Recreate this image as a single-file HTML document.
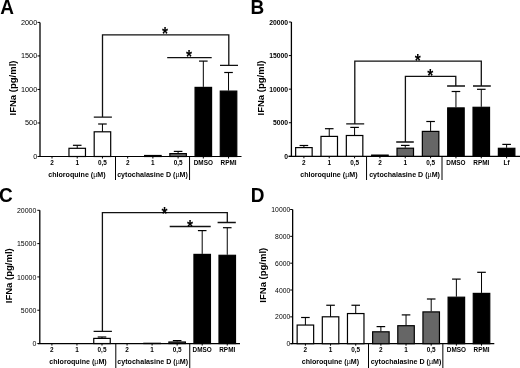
<!DOCTYPE html>
<html><head><meta charset="utf-8"><style>
html,body{margin:0;padding:0;background:#fff;}
body{width:520px;height:368px;overflow:hidden;}
svg{display:block;font-family:"Liberation Sans", Arial, sans-serif;}
</style></head><body>
<svg width="520" height="368" viewBox="0 0 520 368">
<rect width="520" height="368" fill="#fff"/>
<text x="0" y="0" font-size="19" font-weight="bold" text-anchor="start" fill="#000" transform="translate(0.3,13.9) scale(1,1.07)">A</text>
<path d="M40,22.4 V156.5" stroke="#000" stroke-width="1.3" fill="none"/>
<path d="M37.5,156.50 H40" stroke="#000" stroke-width="1.0" fill="none"/>
<text x="0" y="2.61" font-size="7.3" font-weight="normal" text-anchor="end" fill="#000" transform="translate(37.2,156.05) scale(1,1.0)">0</text>
<path d="M37.5,122.97 H40" stroke="#000" stroke-width="1.0" fill="none"/>
<text x="0" y="2.61" font-size="7.3" font-weight="normal" text-anchor="end" fill="#000" transform="translate(37.2,122.52) scale(1,1.0)">500</text>
<path d="M37.5,89.45 H40" stroke="#000" stroke-width="1.0" fill="none"/>
<text x="0" y="2.61" font-size="7.3" font-weight="normal" text-anchor="end" fill="#000" transform="translate(37.2,89.0) scale(1,1.0)">1000</text>
<path d="M37.5,55.93 H40" stroke="#000" stroke-width="1.0" fill="none"/>
<text x="0" y="2.61" font-size="7.3" font-weight="normal" text-anchor="end" fill="#000" transform="translate(37.2,55.48) scale(1,1.0)">1500</text>
<path d="M37.5,22.40 H40" stroke="#000" stroke-width="1.0" fill="none"/>
<text x="0" y="2.61" font-size="7.3" font-weight="normal" text-anchor="end" fill="#000" transform="translate(37.2,21.95) scale(1,1.0)">2000</text>
<path d="M38,156.5 H241.5" stroke="#000" stroke-width="1.2" fill="none"/>
<path d="M52.00,156.5 V158.5" stroke="#000" stroke-width="1.0" fill="none"/>
<path d="M77.22,156.5 V158.5" stroke="#000" stroke-width="1.0" fill="none"/>
<path d="M77.22,145.3 V148.5" stroke="#000" stroke-width="1.0" fill="none"/>
<path d="M72.92,145.3 H81.52" stroke="#000" stroke-width="1.2" fill="none"/>
<rect x="68.97" y="148.30" width="16.50" height="8.20" fill="#fff" stroke="#000" stroke-width="1.2"/>
<path d="M102.44,156.5 V158.5" stroke="#000" stroke-width="1.0" fill="none"/>
<path d="M102.44,124 V132" stroke="#000" stroke-width="1.0" fill="none"/>
<path d="M98.14,124 H106.74" stroke="#000" stroke-width="1.2" fill="none"/>
<rect x="94.19" y="131.80" width="16.50" height="24.70" fill="#fff" stroke="#000" stroke-width="1.2"/>
<path d="M127.66,156.5 V158.5" stroke="#000" stroke-width="1.0" fill="none"/>
<path d="M152.88,156.5 V158.5" stroke="#000" stroke-width="1.0" fill="none"/>
<rect x="144.63" y="155.50" width="16.50" height="1.00" fill="#666" stroke="#000" stroke-width="1.2"/>
<path d="M178.10,156.5 V158.5" stroke="#000" stroke-width="1.0" fill="none"/>
<path d="M178.10,151.4 V153.1" stroke="#000" stroke-width="1.0" fill="none"/>
<path d="M173.80,151.4 H182.40" stroke="#000" stroke-width="1.2" fill="none"/>
<rect x="169.85" y="153.60" width="16.50" height="2.90" fill="#666" stroke="#000" stroke-width="1.2"/>
<path d="M203.32,156.5 V158.5" stroke="#000" stroke-width="1.0" fill="none"/>
<path d="M203.32,61.1 V86.9" stroke="#000" stroke-width="1.0" fill="none"/>
<path d="M199.02,61.1 H207.62" stroke="#000" stroke-width="1.2" fill="none"/>
<rect x="195.07" y="87.40" width="16.50" height="69.10" fill="#000" stroke="#000" stroke-width="1.2"/>
<path d="M228.54,156.5 V158.5" stroke="#000" stroke-width="1.0" fill="none"/>
<path d="M228.54,72.5 V90.6" stroke="#000" stroke-width="1.0" fill="none"/>
<path d="M224.24,72.5 H232.84" stroke="#000" stroke-width="1.2" fill="none"/>
<rect x="220.29" y="91.10" width="16.50" height="65.40" fill="#000" stroke="#000" stroke-width="1.2"/>
<text x="52.00" y="164.7" font-size="6.4" font-weight="bold" text-anchor="middle" fill="#000">2</text>
<text x="77.22" y="164.7" font-size="6.4" font-weight="bold" text-anchor="middle" fill="#000">1</text>
<text x="102.44" y="164.7" font-size="6.4" font-weight="bold" text-anchor="middle" fill="#000">0,5</text>
<text x="127.66" y="164.7" font-size="6.4" font-weight="bold" text-anchor="middle" fill="#000">2</text>
<text x="152.88" y="164.7" font-size="6.4" font-weight="bold" text-anchor="middle" fill="#000">1</text>
<text x="178.10" y="164.7" font-size="6.4" font-weight="bold" text-anchor="middle" fill="#000">0,5</text>
<text x="203.32" y="164.7" font-size="6.4" font-weight="bold" text-anchor="middle" fill="#000">DMSO</text>
<text x="228.54" y="164.7" font-size="6.4" font-weight="bold" text-anchor="middle" fill="#000">RPMI</text>
<path d="M115.5,156.5 V180" stroke="#000" stroke-width="1.0" fill="none"/>
<path d="M189.55,156.5 V180" stroke="#000" stroke-width="1.0" fill="none"/>
<text x="76.9" y="176.8" font-size="7.1" font-weight="bold" text-anchor="middle" fill="#000">chloroquine (<tspan font-weight="normal">µ</tspan>M)</text>
<text x="152.5" y="176.8" font-size="7.1" font-weight="bold" text-anchor="middle" fill="#000">cytochalasine D (<tspan font-weight="normal">µ</tspan>M)</text>
<text x="0" y="0" font-size="9.5" font-weight="bold" text-anchor="middle" fill="#000" transform="translate(16.4,88.0) rotate(-90)">IFNa (pg/ml)</text>
<path d="M93.8,117.2 H111.9 M102.5,117.2 V34.9 H228.8 V65.3 M220,65.3 H238" stroke="#111" stroke-width="1.3" fill="none"/>
<path d="M167.2,57.7 H211.7" stroke="#111" stroke-width="1.3" fill="none"/>
<text x="0" y="8.4" font-size="15.5" font-weight="bold" text-anchor="middle" fill="#000" transform="translate(164.9,30.2) scale(1,1.14)">*</text>
<text x="0" y="8.4" font-size="15.5" font-weight="bold" text-anchor="middle" fill="#000" transform="translate(189.1,53.1) scale(1,1.14)">*</text>
<text x="0" y="0" font-size="19" font-weight="bold" text-anchor="start" fill="#000" transform="translate(250.6,13.9) scale(1,1.07)">B</text>
<path d="M291.4,22 V156.3" stroke="#000" stroke-width="1.3" fill="none"/>
<path d="M288.9,156.30 H291.4" stroke="#000" stroke-width="1.0" fill="none"/>
<text x="0" y="2.43" font-size="6.8" font-weight="bold" text-anchor="end" fill="#000" transform="translate(288.1,156.45) scale(1,1.0)">0</text>
<path d="M288.9,122.73 H291.4" stroke="#000" stroke-width="1.0" fill="none"/>
<text x="0" y="2.43" font-size="6.8" font-weight="bold" text-anchor="end" fill="#000" transform="translate(288.1,122.88) scale(1,1.0)">5000</text>
<path d="M288.9,89.15 H291.4" stroke="#000" stroke-width="1.0" fill="none"/>
<text x="0" y="2.43" font-size="6.8" font-weight="bold" text-anchor="end" fill="#000" transform="translate(288.1,89.3) scale(1,1.0)">10000</text>
<path d="M288.9,55.58 H291.4" stroke="#000" stroke-width="1.0" fill="none"/>
<text x="0" y="2.43" font-size="6.8" font-weight="bold" text-anchor="end" fill="#000" transform="translate(288.1,55.73) scale(1,1.0)">15000</text>
<path d="M288.9,22.00 H291.4" stroke="#000" stroke-width="1.0" fill="none"/>
<text x="0" y="2.43" font-size="6.8" font-weight="bold" text-anchor="end" fill="#000" transform="translate(288.1,22.15) scale(1,1.0)">20000</text>
<path d="M288.5,156.3 H520" stroke="#000" stroke-width="1.2" fill="none"/>
<path d="M303.90,156.3 V158.3" stroke="#000" stroke-width="1.0" fill="none"/>
<path d="M303.90,145.5 V147.8" stroke="#000" stroke-width="1.0" fill="none"/>
<path d="M299.60,145.5 H308.20" stroke="#000" stroke-width="1.2" fill="none"/>
<rect x="295.65" y="147.60" width="16.50" height="8.70" fill="#fff" stroke="#000" stroke-width="1.2"/>
<path d="M329.24,156.3 V158.3" stroke="#000" stroke-width="1.0" fill="none"/>
<path d="M329.24,128.7 V136.6" stroke="#000" stroke-width="1.0" fill="none"/>
<path d="M324.94,128.7 H333.54" stroke="#000" stroke-width="1.2" fill="none"/>
<rect x="320.99" y="136.40" width="16.50" height="19.90" fill="#fff" stroke="#000" stroke-width="1.2"/>
<path d="M354.58,156.3 V158.3" stroke="#000" stroke-width="1.0" fill="none"/>
<path d="M354.58,127.4 V135.7" stroke="#000" stroke-width="1.0" fill="none"/>
<path d="M350.28,127.4 H358.88" stroke="#000" stroke-width="1.2" fill="none"/>
<rect x="346.33" y="135.50" width="16.50" height="20.80" fill="#fff" stroke="#000" stroke-width="1.2"/>
<path d="M379.92,156.3 V158.3" stroke="#000" stroke-width="1.0" fill="none"/>
<rect x="371.67" y="155.10" width="16.50" height="1.20" fill="#666" stroke="#000" stroke-width="1.2"/>
<path d="M405.26,156.3 V158.3" stroke="#000" stroke-width="1.0" fill="none"/>
<path d="M405.26,145.4 V147.7" stroke="#000" stroke-width="1.0" fill="none"/>
<path d="M400.96,145.4 H409.56" stroke="#000" stroke-width="1.2" fill="none"/>
<rect x="397.01" y="148.20" width="16.50" height="8.10" fill="#666" stroke="#000" stroke-width="1.2"/>
<path d="M430.60,156.3 V158.3" stroke="#000" stroke-width="1.0" fill="none"/>
<path d="M430.60,121.5 V130.9" stroke="#000" stroke-width="1.0" fill="none"/>
<path d="M426.30,121.5 H434.90" stroke="#000" stroke-width="1.2" fill="none"/>
<rect x="422.35" y="131.40" width="16.50" height="24.90" fill="#666" stroke="#000" stroke-width="1.2"/>
<path d="M455.94,156.3 V158.3" stroke="#000" stroke-width="1.0" fill="none"/>
<path d="M455.94,91.5 V107.4" stroke="#000" stroke-width="1.0" fill="none"/>
<path d="M451.64,91.5 H460.24" stroke="#000" stroke-width="1.2" fill="none"/>
<rect x="447.69" y="107.90" width="16.50" height="48.40" fill="#000" stroke="#000" stroke-width="1.2"/>
<path d="M481.28,156.3 V158.3" stroke="#000" stroke-width="1.0" fill="none"/>
<path d="M481.28,89.3 V106.8" stroke="#000" stroke-width="1.0" fill="none"/>
<path d="M476.98,89.3 H485.58" stroke="#000" stroke-width="1.2" fill="none"/>
<rect x="473.03" y="107.30" width="16.50" height="49.00" fill="#000" stroke="#000" stroke-width="1.2"/>
<path d="M506.62,156.3 V158.3" stroke="#000" stroke-width="1.0" fill="none"/>
<path d="M506.62,144.4 V147.8" stroke="#000" stroke-width="1.0" fill="none"/>
<path d="M502.32,144.4 H510.92" stroke="#000" stroke-width="1.2" fill="none"/>
<rect x="498.37" y="148.30" width="16.50" height="8.00" fill="#000" stroke="#000" stroke-width="1.2"/>
<text x="303.90" y="164.7" font-size="6.4" font-weight="bold" text-anchor="middle" fill="#000">2</text>
<text x="329.24" y="164.7" font-size="6.4" font-weight="bold" text-anchor="middle" fill="#000">1</text>
<text x="354.58" y="164.7" font-size="6.4" font-weight="bold" text-anchor="middle" fill="#000">0,5</text>
<text x="379.92" y="164.7" font-size="6.4" font-weight="bold" text-anchor="middle" fill="#000">2</text>
<text x="405.26" y="164.7" font-size="6.4" font-weight="bold" text-anchor="middle" fill="#000">1</text>
<text x="430.60" y="164.7" font-size="6.4" font-weight="bold" text-anchor="middle" fill="#000">0,5</text>
<text x="455.94" y="164.7" font-size="6.4" font-weight="bold" text-anchor="middle" fill="#000">DMSO</text>
<text x="481.28" y="164.7" font-size="6.4" font-weight="bold" text-anchor="middle" fill="#000">RPMI</text>
<text x="506.62" y="164.7" font-size="6.4" font-weight="bold" text-anchor="middle" fill="#000">Lf</text>
<path d="M366.55,156.3 V180" stroke="#000" stroke-width="1.0" fill="none"/>
<path d="M442,156.3 V180" stroke="#000" stroke-width="1.0" fill="none"/>
<text x="328.85" y="176.6" font-size="7.1" font-weight="bold" text-anchor="middle" fill="#000">chloroquine (<tspan font-weight="normal">µ</tspan>M)</text>
<text x="404.55" y="176.6" font-size="7.1" font-weight="bold" text-anchor="middle" fill="#000">cytochalasine D (<tspan font-weight="normal">µ</tspan>M)</text>
<text x="0" y="0" font-size="9.5" font-weight="bold" text-anchor="middle" fill="#000" transform="translate(263.7,88.0) rotate(-90)">IFNa (pg/ml)</text>
<path d="M346.2,123.8 H364.2 M354.8,123.8 V61.2 H481.3 V86 M473,86 H490.8" stroke="#111" stroke-width="1.3" fill="none"/>
<path d="M396.2,142 H413.8 M405.4,142 V76.3 H455.8 V86 M447.1,86 H465" stroke="#111" stroke-width="1.3" fill="none"/>
<text x="0" y="8.4" font-size="15.5" font-weight="bold" text-anchor="middle" fill="#000" transform="translate(417.8,57.1) scale(1,1.14)">*</text>
<text x="0" y="8.4" font-size="15.5" font-weight="bold" text-anchor="middle" fill="#000" transform="translate(430.2,72.7) scale(1,1.14)">*</text>
<text x="0" y="0" font-size="19" font-weight="bold" text-anchor="start" fill="#000" transform="translate(-1.0,201.5) scale(1,1.07)">C</text>
<path d="M39.8,210.3 V343.55" stroke="#000" stroke-width="1.3" fill="none"/>
<path d="M37.3,343.55 H39.8" stroke="#000" stroke-width="1.0" fill="none"/>
<text x="0" y="2.51" font-size="7.0" font-weight="normal" text-anchor="end" fill="#000" transform="translate(36.4,343.55) scale(1,1.08)">0</text>
<path d="M37.3,310.24 H39.8" stroke="#000" stroke-width="1.0" fill="none"/>
<text x="0" y="2.51" font-size="7.0" font-weight="normal" text-anchor="end" fill="#000" transform="translate(36.4,310.24) scale(1,1.08)">5000</text>
<path d="M37.3,276.93 H39.8" stroke="#000" stroke-width="1.0" fill="none"/>
<text x="0" y="2.51" font-size="7.0" font-weight="normal" text-anchor="end" fill="#000" transform="translate(36.4,276.93) scale(1,1.08)">10000</text>
<path d="M37.3,243.61 H39.8" stroke="#000" stroke-width="1.0" fill="none"/>
<text x="0" y="2.51" font-size="7.0" font-weight="normal" text-anchor="end" fill="#000" transform="translate(36.4,243.61) scale(1,1.08)">15000</text>
<path d="M37.3,210.30 H39.8" stroke="#000" stroke-width="1.0" fill="none"/>
<text x="0" y="2.51" font-size="7.0" font-weight="normal" text-anchor="end" fill="#000" transform="translate(36.4,210.3) scale(1,1.08)">20000</text>
<path d="M38,343.55 H240" stroke="#000" stroke-width="1.2" fill="none"/>
<path d="M51.90,343.55 V345.55" stroke="#000" stroke-width="1.0" fill="none"/>
<path d="M76.95,343.55 V345.55" stroke="#000" stroke-width="1.0" fill="none"/>
<path d="M102.00,343.55 V345.55" stroke="#000" stroke-width="1.0" fill="none"/>
<path d="M102.00,337 V338.6" stroke="#000" stroke-width="1.0" fill="none"/>
<path d="M97.70,337 H106.30" stroke="#000" stroke-width="1.2" fill="none"/>
<rect x="93.75" y="338.40" width="16.50" height="5.15" fill="#fff" stroke="#000" stroke-width="1.2"/>
<path d="M127.05,343.55 V345.55" stroke="#000" stroke-width="1.0" fill="none"/>
<path d="M152.10,343.55 V345.55" stroke="#000" stroke-width="1.0" fill="none"/>
<rect x="143.85" y="343.30" width="16.50" height="0.25" fill="#666" stroke="#000" stroke-width="1.2"/>
<path d="M177.15,343.55 V345.55" stroke="#000" stroke-width="1.0" fill="none"/>
<path d="M177.15,340.6 V341.5" stroke="#000" stroke-width="1.0" fill="none"/>
<path d="M172.85,340.6 H181.45" stroke="#000" stroke-width="1.2" fill="none"/>
<rect x="168.90" y="342.00" width="16.50" height="1.55" fill="#666" stroke="#000" stroke-width="1.2"/>
<path d="M202.20,343.55 V345.55" stroke="#000" stroke-width="1.0" fill="none"/>
<path d="M202.20,230.6 V253.9" stroke="#000" stroke-width="1.0" fill="none"/>
<path d="M197.90,230.6 H206.50" stroke="#000" stroke-width="1.2" fill="none"/>
<rect x="193.95" y="254.40" width="16.50" height="89.15" fill="#000" stroke="#000" stroke-width="1.2"/>
<path d="M227.25,343.55 V345.55" stroke="#000" stroke-width="1.0" fill="none"/>
<path d="M227.25,227.7 V254.8" stroke="#000" stroke-width="1.0" fill="none"/>
<path d="M222.95,227.7 H231.55" stroke="#000" stroke-width="1.2" fill="none"/>
<rect x="219.00" y="255.30" width="16.50" height="88.25" fill="#000" stroke="#000" stroke-width="1.2"/>
<text x="51.90" y="352" font-size="6.4" font-weight="bold" text-anchor="middle" fill="#000">2</text>
<text x="76.95" y="352" font-size="6.4" font-weight="bold" text-anchor="middle" fill="#000">1</text>
<text x="102.00" y="352" font-size="6.4" font-weight="bold" text-anchor="middle" fill="#000">0,5</text>
<text x="127.05" y="352" font-size="6.4" font-weight="bold" text-anchor="middle" fill="#000">2</text>
<text x="152.10" y="352" font-size="6.4" font-weight="bold" text-anchor="middle" fill="#000">1</text>
<text x="177.15" y="352" font-size="6.4" font-weight="bold" text-anchor="middle" fill="#000">0,5</text>
<text x="202.20" y="352" font-size="6.4" font-weight="bold" text-anchor="middle" fill="#000">DMSO</text>
<text x="227.25" y="352" font-size="6.4" font-weight="bold" text-anchor="middle" fill="#000">RPMI</text>
<path d="M115.8,343.55 V368" stroke="#000" stroke-width="1.0" fill="none"/>
<path d="M189.75,343.55 V368" stroke="#000" stroke-width="1.0" fill="none"/>
<text x="78" y="364.2" font-size="7.1" font-weight="bold" text-anchor="middle" fill="#000">chloroquine (<tspan font-weight="normal">µ</tspan>M)</text>
<text x="152.7" y="364.2" font-size="7.1" font-weight="bold" text-anchor="middle" fill="#000">cytochalasine D (<tspan font-weight="normal">µ</tspan>M)</text>
<text x="0" y="0" font-size="9.5" font-weight="bold" text-anchor="middle" fill="#000" transform="translate(11.9,275.75) rotate(-90)">IFNa (pg/ml)</text>
<path d="M93.6,331.4 H111.9 M102.4,331.4 V212.6 H227.3 V222.5 M217.6,222.5 H235.8" stroke="#111" stroke-width="1.3" fill="none"/>
<path d="M169.7,226.5 H210.7" stroke="#111" stroke-width="1.3" fill="none"/>
<text x="0" y="8.4" font-size="15.5" font-weight="bold" text-anchor="middle" fill="#000" transform="translate(164.5,210) scale(1,1.14)">*</text>
<text x="0" y="8.4" font-size="15.5" font-weight="bold" text-anchor="middle" fill="#000" transform="translate(189.9,223.1) scale(1,1.14)">*</text>
<text x="0" y="0" font-size="19" font-weight="bold" text-anchor="start" fill="#000" transform="translate(250.8,201.9) scale(1,1.07)">D</text>
<path d="M292.65,209.5 V343.7" stroke="#000" stroke-width="1.3" fill="none"/>
<path d="M290.15,343.70 H292.65" stroke="#000" stroke-width="1.0" fill="none"/>
<text x="0" y="2.43" font-size="6.8" font-weight="normal" text-anchor="end" fill="#000" transform="translate(290.2,343.6) scale(1,1.1)">0</text>
<path d="M290.15,316.86 H292.65" stroke="#000" stroke-width="1.0" fill="none"/>
<text x="0" y="2.43" font-size="6.8" font-weight="normal" text-anchor="end" fill="#000" transform="translate(290.2,316.76) scale(1,1.1)">2000</text>
<path d="M290.15,290.02 H292.65" stroke="#000" stroke-width="1.0" fill="none"/>
<text x="0" y="2.43" font-size="6.8" font-weight="normal" text-anchor="end" fill="#000" transform="translate(290.2,289.92) scale(1,1.1)">4000</text>
<path d="M290.15,263.18 H292.65" stroke="#000" stroke-width="1.0" fill="none"/>
<text x="0" y="2.43" font-size="6.8" font-weight="normal" text-anchor="end" fill="#000" transform="translate(290.2,263.08) scale(1,1.1)">6000</text>
<path d="M290.15,236.34 H292.65" stroke="#000" stroke-width="1.0" fill="none"/>
<text x="0" y="2.43" font-size="6.8" font-weight="normal" text-anchor="end" fill="#000" transform="translate(290.2,236.24) scale(1,1.1)">8000</text>
<path d="M290.15,209.50 H292.65" stroke="#000" stroke-width="1.0" fill="none"/>
<text x="0" y="2.43" font-size="6.8" font-weight="normal" text-anchor="end" fill="#000" transform="translate(290.2,209.4) scale(1,1.1)">10000</text>
<path d="M290.6,343.7 H494.3" stroke="#000" stroke-width="1.2" fill="none"/>
<path d="M305.40,343.7 V345.7" stroke="#000" stroke-width="1.0" fill="none"/>
<path d="M305.40,317.5 V325.25" stroke="#000" stroke-width="1.0" fill="none"/>
<path d="M301.10,317.5 H309.70" stroke="#000" stroke-width="1.2" fill="none"/>
<rect x="297.15" y="325.05" width="16.50" height="18.65" fill="#fff" stroke="#000" stroke-width="1.2"/>
<path d="M330.56,343.7 V345.7" stroke="#000" stroke-width="1.0" fill="none"/>
<path d="M330.56,305.25 V317" stroke="#000" stroke-width="1.0" fill="none"/>
<path d="M326.26,305.25 H334.86" stroke="#000" stroke-width="1.2" fill="none"/>
<rect x="322.31" y="316.80" width="16.50" height="26.90" fill="#fff" stroke="#000" stroke-width="1.2"/>
<path d="M355.72,343.7 V345.7" stroke="#000" stroke-width="1.0" fill="none"/>
<path d="M355.72,305.25 V313.75" stroke="#000" stroke-width="1.0" fill="none"/>
<path d="M351.42,305.25 H360.02" stroke="#000" stroke-width="1.2" fill="none"/>
<rect x="347.47" y="313.55" width="16.50" height="30.15" fill="#fff" stroke="#000" stroke-width="1.2"/>
<path d="M380.88,343.7 V345.7" stroke="#000" stroke-width="1.0" fill="none"/>
<path d="M380.88,326.6 V331.3" stroke="#000" stroke-width="1.0" fill="none"/>
<path d="M376.58,326.6 H385.18" stroke="#000" stroke-width="1.2" fill="none"/>
<rect x="372.63" y="331.80" width="16.50" height="11.90" fill="#666" stroke="#000" stroke-width="1.2"/>
<path d="M406.04,343.7 V345.7" stroke="#000" stroke-width="1.0" fill="none"/>
<path d="M406.04,314.9 V325.2" stroke="#000" stroke-width="1.0" fill="none"/>
<path d="M401.74,314.9 H410.34" stroke="#000" stroke-width="1.2" fill="none"/>
<rect x="397.79" y="325.70" width="16.50" height="18.00" fill="#666" stroke="#000" stroke-width="1.2"/>
<path d="M431.20,343.7 V345.7" stroke="#000" stroke-width="1.0" fill="none"/>
<path d="M431.20,299 V311.4" stroke="#000" stroke-width="1.0" fill="none"/>
<path d="M426.90,299 H435.50" stroke="#000" stroke-width="1.2" fill="none"/>
<rect x="422.95" y="311.90" width="16.50" height="31.80" fill="#666" stroke="#000" stroke-width="1.2"/>
<path d="M456.36,343.7 V345.7" stroke="#000" stroke-width="1.0" fill="none"/>
<path d="M456.36,279.1 V296.7" stroke="#000" stroke-width="1.0" fill="none"/>
<path d="M452.06,279.1 H460.66" stroke="#000" stroke-width="1.2" fill="none"/>
<rect x="448.11" y="297.20" width="16.50" height="46.50" fill="#000" stroke="#000" stroke-width="1.2"/>
<path d="M481.52,343.7 V345.7" stroke="#000" stroke-width="1.0" fill="none"/>
<path d="M481.52,272.3 V292.9" stroke="#000" stroke-width="1.0" fill="none"/>
<path d="M477.22,272.3 H485.82" stroke="#000" stroke-width="1.2" fill="none"/>
<rect x="473.27" y="293.40" width="16.50" height="50.30" fill="#000" stroke="#000" stroke-width="1.2"/>
<text x="305.40" y="352" font-size="6.4" font-weight="bold" text-anchor="middle" fill="#000">2</text>
<text x="330.56" y="352" font-size="6.4" font-weight="bold" text-anchor="middle" fill="#000">1</text>
<text x="355.72" y="352" font-size="6.4" font-weight="bold" text-anchor="middle" fill="#000">0,5</text>
<text x="380.88" y="352" font-size="6.4" font-weight="bold" text-anchor="middle" fill="#000">2</text>
<text x="406.04" y="352" font-size="6.4" font-weight="bold" text-anchor="middle" fill="#000">1</text>
<text x="431.20" y="352" font-size="6.4" font-weight="bold" text-anchor="middle" fill="#000">0,5</text>
<text x="456.36" y="352" font-size="6.4" font-weight="bold" text-anchor="middle" fill="#000">DMSO</text>
<text x="481.52" y="352" font-size="6.4" font-weight="bold" text-anchor="middle" fill="#000">RPMI</text>
<path d="M368.5,343.7 V368" stroke="#000" stroke-width="1.0" fill="none"/>
<path d="M442.85,343.7 V368" stroke="#000" stroke-width="1.0" fill="none"/>
<text x="330.35" y="364.1" font-size="7.1" font-weight="bold" text-anchor="middle" fill="#000">chloroquine (<tspan font-weight="normal">µ</tspan>M)</text>
<text x="406" y="364.1" font-size="7.1" font-weight="bold" text-anchor="middle" fill="#000">cytochalasine D (<tspan font-weight="normal">µ</tspan>M)</text>
<text x="0" y="0" font-size="9.5" font-weight="bold" text-anchor="middle" fill="#000" transform="translate(265.6,275.2) rotate(-90)">IFNa (pg/ml)</text>
</svg>
</body></html>
